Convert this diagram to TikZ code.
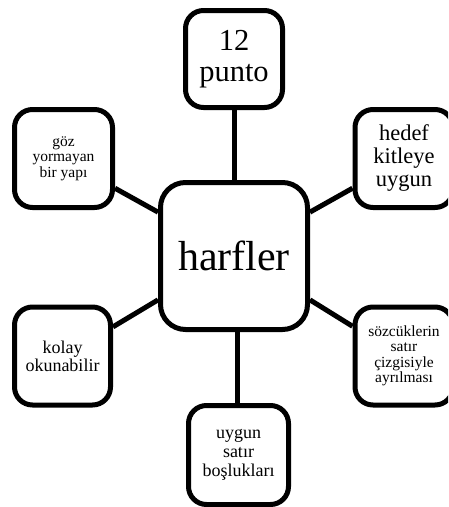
\documentclass[tikz,border=0pt]{standalone}
\usepackage{fontspec}
\setmainfont{Liberation Serif}
\newcommand{\fsz}[1]{\fontsize{#1}{#1*1.03}\selectfont}
\tikzset{
  box/.style={draw=black, line width=5pt, rounded corners=18pt, align=center,
    inner sep=0pt, minimum width=98pt, minimum height=98pt, fill=white},
  conn/.style={draw=black, line width=5pt},
}
\begin{document}
\begin{tikzpicture}[x=1pt, y=-1pt]
\useasboundingbox (0,0) rectangle (448,507);
\clip (0,0) rectangle (448,507);
\node[box, minimum width=147pt, minimum height=147pt, rounded corners=25pt,
  font=\fontsize{42}{43}\selectfont] (c) at (234,256) {harfler};
\node[box, minimum width=97pt, minimum height=97pt,
  font=\fontsize{30.5}{30.5}\selectfont] (t) at (234,59) {12\\punto};
\node[box, font=\fontsize{15.5}{15.5}\selectfont] (lu) at (63.5,158.5) {göz\\yormayan\\bir yapı};
\node[box, font=\fontsize{22.5}{23}\selectfont] (ru) at (404,158.5) {hedef\\kitleye\\uygun};
\node[box, minimum width=96pt, font=\fontsize{18}{18}\selectfont] (ll) at (62.5,356) {kolay\\okunabilir};
\node[box, font=\fontsize{15.5}{15.5}\selectfont] (rl) at (404,356) {sözcüklerin\\satır\\çizgisiyle\\ayrılması};
\node[box, minimum width=100pt, minimum height=99pt,
  font=\fontsize{18}{19}\selectfont] (b) at (238.5,455) {uygun\\satır\\boşlukları};
\draw[conn] (t.south) -- (c.north);
\draw[conn] ([xshift=-1pt]b.north) -- ([xshift=-1pt]b.north |- c.south);
\draw[conn] (lu.-30) -- (c.150);
\draw[conn] (ru.210) -- (c.30);
\draw[conn] (ll.30) -- (c.210);
\draw[conn] (rl.150) -- (c.-30);
\end{tikzpicture}
\end{document}
